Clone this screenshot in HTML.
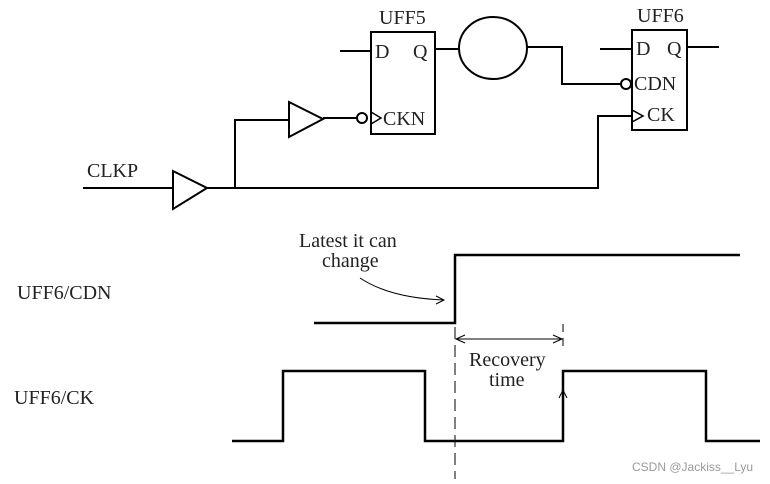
<!DOCTYPE html>
<html><head><style>
html,body{margin:0;padding:0;background:#fff;}
svg text{font-family:"Liberation Serif",serif;fill:#222;}
</style></head><body>
<svg width="770" height="479" viewBox="0 0 770 479" xmlns="http://www.w3.org/2000/svg">
<g fill="none" stroke="#000" stroke-width="2">
<line x1="83" y1="188" x2="173" y2="188"/>
<polygon points="173,171 207,188 173,209" fill="#fff"/>
<polyline points="207,188 598,188 598,116 632,116"/>
<polyline points="235,188 235,120 289,120"/>
<polygon points="289,102 323,119 289,137" fill="#fff"/>
<line x1="323" y1="118" x2="357" y2="118"/>
<circle cx="362" cy="118" r="5"/>
<rect x="371" y="32" width="64" height="102"/>
<polyline points="371,112 381,118 371,124" stroke-width="1.5"/>
<line x1="340" y1="51" x2="371" y2="51"/>
<line x1="435" y1="49" x2="459" y2="49"/>
<ellipse cx="493" cy="48" rx="34" ry="31"/>
<polyline points="527,47 562,47 562,84 620,84"/>
<circle cx="626" cy="84" r="5"/>
<rect x="632" y="30" width="55" height="100"/>
<polyline points="632,110 643,116 632,122" stroke-width="1.5"/>
<line x1="600" y1="49" x2="632" y2="49"/>
<line x1="687" y1="47" x2="719" y2="47"/>
<polyline points="314,323 455,323 455,255 740,255" stroke-width="2.5"/>
<polyline points="232,441 283,441 283,371 425,371 425,441 563,441 563,371 706,371 706,441 760,441" stroke-width="2.5"/>
<line x1="455" y1="327" x2="455" y2="479" stroke-width="1" stroke-dasharray="12,6"/>
<line x1="563" y1="324" x2="563" y2="348" stroke-width="1" stroke-dasharray="8,6"/>
<line x1="456" y1="339" x2="562" y2="339" stroke-width="1"/>
<polyline points="465,335 456,339 465,343" stroke-width="1"/>
<polyline points="553,335 562,339 553,343" stroke-width="1"/>
<polyline points="559,398 563,390 567,398" stroke-width="1"/>
<path d="M360,278 Q390,298 444,300" stroke-width="1"/>
<polyline points="436,296 444,300 436,304" stroke-width="1"/>
</g>
<g font-size="20">
<text x="379" y="24">UFF5</text>
<text x="637" y="22">UFF6</text>
<text x="375" y="58">D</text>
<text x="413" y="58">Q</text>
<text x="383" y="125">CKN</text>
<text x="636" y="55">D</text>
<text x="667" y="55">Q</text>
<text x="634" y="90">CDN</text>
<text x="647" y="121">CK</text>
<text x="87" y="177">CLKP</text>
<text x="299" y="247">Latest it can</text>
<text x="322" y="267">change</text>
<text x="17" y="299">UFF6/CDN</text>
<text x="14" y="404">UFF6/CK</text>
<text x="469" y="366">Recovery</text>
<text x="489" y="386">time</text>
</g>
<text x="632" y="471" font-size="12" style="fill:#999;font-family:'Liberation Sans',sans-serif">CSDN @Jackiss__Lyu</text>
</svg>
</body></html>
